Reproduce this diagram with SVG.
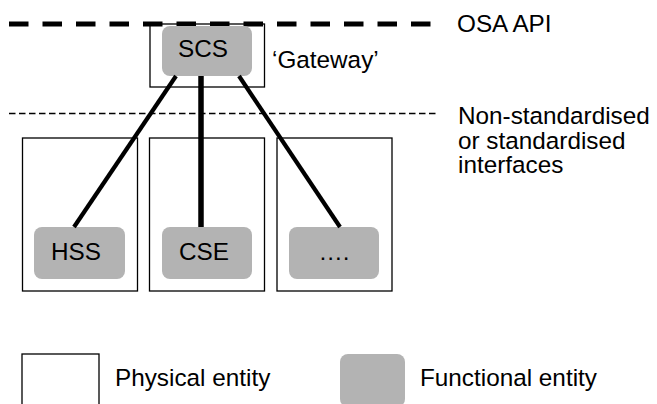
<svg xmlns="http://www.w3.org/2000/svg" width="657" height="404" viewBox="0 0 657 404">
<style>
  .phys { fill: #ffffff; stroke: #000000; stroke-width: 1.3; }
  .func { fill: #b3b3b3; stroke: none; }
  .lbl { font-family: "Liberation Sans", Arial, sans-serif; font-size: 24.3px; fill: #000000; }
  .mid { text-anchor: middle; }
  .conn { stroke: #000000; fill: none; }
</style>
<rect width="657" height="404" fill="#ffffff"/>
<g id="physical-boxes">
  <rect id="phys-scs" class="phys" x="150" y="24" width="114.5" height="63"/>
  <rect id="phys-1" class="phys" x="22.5" y="138" width="115" height="153"/>
  <rect id="phys-2" class="phys" x="149.5" y="138" width="115" height="153"/>
  <rect id="phys-3" class="phys" x="277" y="138" width="115" height="153"/>
</g>
<g id="lines">
  <line class="conn" x1="9" y1="24" x2="431" y2="24" stroke-width="5" stroke-dasharray="19.5 14"/>
  <line class="conn" x1="9" y1="113.5" x2="438" y2="113.5" stroke-width="1.3" stroke-dasharray="6.5 3.5"/>
</g>
<g id="node-scs">
  <rect class="func" x="162" y="26" width="90" height="50" rx="8"/>
  <text class="lbl mid" x="203" y="57">SCS</text>
</g>
<g id="node-hss">
  <rect class="func" x="34" y="227" width="91" height="52" rx="8"/>
  <text class="lbl mid" x="76" y="260">HSS</text>
</g>
<g id="node-cse">
  <rect class="func" x="162" y="227" width="90" height="52" rx="8"/>
  <text class="lbl mid" x="204" y="260">CSE</text>
</g>
<g id="node-more">
  <rect class="func" x="289" y="227" width="90" height="52" rx="8"/>
  <text class="lbl mid" x="334" y="260">….</text>
</g>
<g id="connectors">
  <line class="conn" x1="176" y1="76" x2="74" y2="227" stroke-width="4.2"/>
  <line class="conn" x1="201" y1="76" x2="201" y2="227" stroke-width="5.5"/>
  <line class="conn" x1="239" y1="76" x2="340" y2="227" stroke-width="4.2"/>
</g>
<g id="labels">
  <text class="lbl" x="272" y="68">‘Gateway’</text>
  <text class="lbl" x="457" y="32">OSA API</text>
  <text class="lbl" x="458" y="124">Non-standardised</text>
  <text class="lbl" x="458" y="148.5">or standardised</text>
  <text class="lbl" x="458" y="173">interfaces</text>
</g>
<g id="legend">
  <rect class="phys" x="22" y="354" width="77" height="70"/>
  <text class="lbl" x="115" y="386">Physical entity</text>
  <rect class="func" x="340" y="354" width="65" height="53" rx="8"/>
  <text class="lbl" x="420" y="386">Functional entity</text>
</g>
</svg>
